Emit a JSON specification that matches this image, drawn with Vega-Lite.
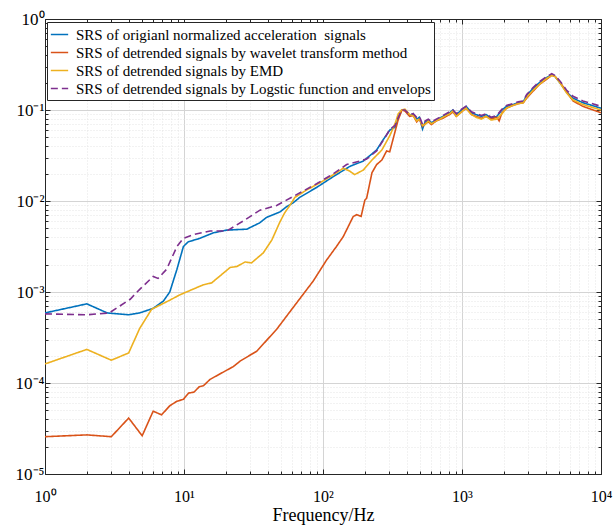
{
  "$schema": "https://vega.github.io/schema/vega-lite/v6.json",
  "width": 556,
  "height": 455,
  "autosize": {"type": "none"},
  "padding": {"left": 45, "top": 19, "right": 13, "bottom": 54},
  "background": "white",
  "config": {
    "font": "Liberation Serif",
    "view": {"stroke": "#262626", "strokeWidth": 1},
    "axis": {"domainColor": "#262626", "tickColor": "#262626", "labelColor": "black", "titleColor": "black"}
  },
  "datasets": {
    "srs": [
      {"s":"o","f":1,"v":5.89e-4},{"s":"o","f":2,"v":7.41e-4},{"s":"o","f":2.8,"v":5.89e-4},{"s":"o","f":4,"v":5.62e-4},{"s":"o","f":4.8,"v":5.89e-4},{"s":"o","f":6,"v":6.61e-4},{"s":"o","f":7.1,"v":7.94e-4},{"s":"o","f":7.9,"v":1.0e-3},{"s":"o","f":8.9,"v":1.78e-3},{"s":"o","f":9.9,"v":3.16e-3},{"s":"o","f":10.7,"v":3.55e-3},{"s":"o","f":13,"v":3.89e-3},{"s":"o","f":16.3,"v":4.47e-3},{"s":"o","f":20.3,"v":4.79e-3},{"s":"o","f":28.3,"v":4.9e-3},{"s":"o","f":35,"v":5.75e-3},{"s":"o","f":39.3,"v":6.61e-3},{"s":"o","f":49,"v":7.59e-3},{"s":"o","f":55,"v":8.71e-3},{"s":"o","f":61,"v":9.55e-3},{"s":"o","f":68,"v":0.01096},{"s":"o","f":90,"v":0.0141},{"s":"o","f":119,"v":0.0186},{"s":"o","f":156,"v":0.024},{"s":"o","f":195,"v":0.0275},{"s":"o","f":243,"v":0.0363},{"s":"o","f":270,"v":0.0468},{"s":"o","f":303,"v":0.0603},{"s":"o","f":330,"v":0.0646},{"s":"o","f":348,"v":0.0813},{"s":"o","f":368,"v":0.1},{"s":"o","f":388,"v":0.1},{"s":"o","f":420,"v":0.0871},{"s":"o","f":445,"v":0.0912},{"s":"o","f":472,"v":0.0794},{"s":"o","f":494,"v":0.0832},{"s":"o","f":520,"v":0.0617},{"s":"o","f":543,"v":0.0741},{"s":"o","f":572,"v":0.0776},{"s":"o","f":603,"v":0.0724},{"s":"o","f":653,"v":0.0776},{"s":"o","f":730,"v":0.0851},{"s":"o","f":815,"v":0.0933},{"s":"o","f":860,"v":0.1},{"s":"o","f":910,"v":0.0891},{"s":"o","f":993,"v":0.1},{"s":"o","f":1070,"v":0.1096},{"s":"o","f":1170,"v":0.0933},{"s":"o","f":1260,"v":0.0891},{"s":"o","f":1380,"v":0.0851},{"s":"o","f":1490,"v":0.0891},{"s":"o","f":1620,"v":0.0813},{"s":"o","f":1780,"v":0.0851},{"s":"o","f":1940,"v":0.1},{"s":"o","f":2090,"v":0.1096},{"s":"o","f":2320,"v":0.1148},{"s":"o","f":2540,"v":0.1202},{"s":"o","f":2760,"v":0.123},{"s":"o","f":2920,"v":0.1445},{"s":"o","f":3260,"v":0.1738},{"s":"o","f":3600,"v":0.1995},{"s":"o","f":4000,"v":0.2239},{"s":"o","f":4420,"v":0.2455},{"s":"o","f":4660,"v":0.2344},{"s":"o","f":5060,"v":0.1995},{"s":"o","f":5640,"v":0.1585},{"s":"o","f":6290,"v":0.1349},{"s":"o","f":7410,"v":0.1202},{"s":"o","f":10000,"v":0.1047},
      {"s":"w","f":1,"v":2.57e-5},{"s":"w","f":2,"v":2.69e-5},{"s":"w","f":3,"v":2.57e-5},{"s":"w","f":4,"v":4.12e-5},{"s":"w","f":5,"v":2.63e-5},{"s":"w","f":6,"v":4.9e-5},{"s":"w","f":6.9,"v":4.47e-5},{"s":"w","f":7.9,"v":5.62e-5},{"s":"w","f":8.9,"v":6.31e-5},{"s":"w","f":9.9,"v":6.61e-5},{"s":"w","f":10.8,"v":7.76e-5},{"s":"w","f":11.8,"v":7.94e-5},{"s":"w","f":12.9,"v":9.12e-5},{"s":"w","f":13.8,"v":9.33e-5},{"s":"w","f":15.4,"v":1.096e-4},{"s":"w","f":22.6,"v":1.514e-4},{"s":"w","f":25.3,"v":1.738e-4},{"s":"w","f":33.4,"v":2.239e-4},{"s":"w","f":46.4,"v":3.89e-4},{"s":"w","f":64.6,"v":7.59e-4},{"s":"w","f":85,"v":1.318e-3},{"s":"w","f":106,"v":2.239e-3},{"s":"w","f":125,"v":3.162e-3},{"s":"w","f":140,"v":4.07e-3},{"s":"w","f":165,"v":6.76e-3},{"s":"w","f":175,"v":7.08e-3},{"s":"w","f":188,"v":6.76e-3},{"s":"w","f":200,"v":0.01023},{"s":"w","f":206,"v":0.01072},{"s":"w","f":225,"v":0.02042},{"s":"w","f":243,"v":0.02512},{"s":"w","f":265,"v":0.02818},{"s":"w","f":287,"v":0.03548},{"s":"w","f":302,"v":0.03467},{"s":"w","f":318,"v":0.0468},{"s":"w","f":347,"v":0.0776},{"s":"w","f":370,"v":0.1},{"s":"w","f":388,"v":0.0977},{"s":"w","f":420,"v":0.0851},{"s":"w","f":445,"v":0.0871},{"s":"w","f":472,"v":0.0741},{"s":"w","f":494,"v":0.0794},{"s":"w","f":520,"v":0.0661},{"s":"w","f":543,"v":0.0708},{"s":"w","f":572,"v":0.0741},{"s":"w","f":603,"v":0.0692},{"s":"w","f":653,"v":0.0759},{"s":"w","f":730,"v":0.0813},{"s":"w","f":815,"v":0.0891},{"s":"w","f":860,"v":0.0955},{"s":"w","f":910,"v":0.0851},{"s":"w","f":993,"v":0.0955},{"s":"w","f":1070,"v":0.1047},{"s":"w","f":1170,"v":0.0891},{"s":"w","f":1260,"v":0.0851},{"s":"w","f":1380,"v":0.0813},{"s":"w","f":1490,"v":0.0851},{"s":"w","f":1620,"v":0.0794},{"s":"w","f":1780,"v":0.0832},{"s":"w","f":1850,"v":0.0759},{"s":"w","f":1940,"v":0.0933},{"s":"w","f":2090,"v":0.1047},{"s":"w","f":2320,"v":0.1122},{"s":"w","f":2540,"v":0.1175},{"s":"w","f":2760,"v":0.1202},{"s":"w","f":2920,"v":0.1349},{"s":"w","f":3260,"v":0.1622},{"s":"w","f":3600,"v":0.1905},{"s":"w","f":4000,"v":0.2138},{"s":"w","f":4420,"v":0.2399},{"s":"w","f":4660,"v":0.2344},{"s":"w","f":5060,"v":0.2042},{"s":"w","f":5640,"v":0.1585},{"s":"w","f":6290,"v":0.1259},{"s":"w","f":7410,"v":0.1096},{"s":"w","f":10000,"v":0.0933},
      {"s":"e","f":1,"v":1.62e-4},{"s":"e","f":2,"v":2.34e-4},{"s":"e","f":3,"v":1.78e-4},{"s":"e","f":4,"v":2.14e-4},{"s":"e","f":4.8,"v":3.98e-4},{"s":"e","f":5.85,"v":6.46e-4},{"s":"e","f":7.9,"v":8.13e-4},{"s":"e","f":9.36,"v":9.33e-4},{"s":"e","f":13.8,"v":1.202e-3},{"s":"e","f":15.8,"v":1.259e-3},{"s":"e","f":21.5,"v":1.862e-3},{"s":"e","f":24,"v":1.905e-3},{"s":"e","f":27.5,"v":2.138e-3},{"s":"e","f":30.6,"v":2.089e-3},{"s":"e","f":37.2,"v":2.692e-3},{"s":"e","f":42.8,"v":3.715e-3},{"s":"e","f":49,"v":5.89e-3},{"s":"e","f":53,"v":7.41e-3},{"s":"e","f":57.6,"v":8.91e-3},{"s":"e","f":62.8,"v":0.01096},{"s":"e","f":76,"v":0.01318},{"s":"e","f":95,"v":0.01585},{"s":"e","f":119,"v":0.0195},{"s":"e","f":140,"v":0.02291},{"s":"e","f":155,"v":0.02138},{"s":"e","f":169,"v":0.0195},{"s":"e","f":195,"v":0.02188},{"s":"e","f":225,"v":0.02818},{"s":"e","f":265,"v":0.03631},{"s":"e","f":303,"v":0.0525},{"s":"e","f":330,"v":0.0708},{"s":"e","f":348,"v":0.0912},{"s":"e","f":368,"v":0.1},{"s":"e","f":388,"v":0.1023},{"s":"e","f":420,"v":0.0891},{"s":"e","f":445,"v":0.0871},{"s":"e","f":472,"v":0.0759},{"s":"e","f":494,"v":0.0794},{"s":"e","f":520,"v":0.0676},{"s":"e","f":543,"v":0.0692},{"s":"e","f":572,"v":0.0759},{"s":"e","f":603,"v":0.0708},{"s":"e","f":653,"v":0.0759},{"s":"e","f":730,"v":0.0832},{"s":"e","f":815,"v":0.0912},{"s":"e","f":860,"v":0.0977},{"s":"e","f":910,"v":0.0851},{"s":"e","f":993,"v":0.0955},{"s":"e","f":1070,"v":0.1047},{"s":"e","f":1170,"v":0.0891},{"s":"e","f":1260,"v":0.0832},{"s":"e","f":1380,"v":0.0794},{"s":"e","f":1490,"v":0.0851},{"s":"e","f":1620,"v":0.0776},{"s":"e","f":1780,"v":0.0794},{"s":"e","f":1940,"v":0.0912},{"s":"e","f":2090,"v":0.1047},{"s":"e","f":2320,"v":0.1122},{"s":"e","f":2540,"v":0.1175},{"s":"e","f":2760,"v":0.1202},{"s":"e","f":2920,"v":0.138},{"s":"e","f":3260,"v":0.166},{"s":"e","f":3600,"v":0.1905},{"s":"e","f":4000,"v":0.2188},{"s":"e","f":4420,"v":0.2399},{"s":"e","f":4660,"v":0.2344},{"s":"e","f":5060,"v":0.1995},{"s":"e","f":5640,"v":0.1549},{"s":"e","f":6290,"v":0.1288},{"s":"e","f":7410,"v":0.1148},{"s":"e","f":10000,"v":0.1},
      {"s":"l","f":1,"v":5.75e-4},{"s":"l","f":2,"v":5.62e-4},{"s":"l","f":2.9,"v":5.89e-4},{"s":"l","f":4.1,"v":8.32e-4},{"s":"l","f":4.8,"v":1.07e-3},{"s":"l","f":6,"v":1.48e-3},{"s":"l","f":6.5,"v":1.41e-3},{"s":"l","f":7.5,"v":1.78e-3},{"s":"l","f":8.9,"v":3.16e-3},{"s":"l","f":9.9,"v":3.89e-3},{"s":"l","f":11.7,"v":4.27e-3},{"s":"l","f":15.4,"v":4.68e-3},{"s":"l","f":20.3,"v":4.68e-3},{"s":"l","f":26.7,"v":6.03e-3},{"s":"l","f":35.2,"v":7.94e-3},{"s":"l","f":46.4,"v":8.91e-3},{"s":"l","f":61,"v":0.01122},{"s":"l","f":90,"v":0.01549},{"s":"l","f":119,"v":0.01995},{"s":"l","f":148,"v":0.02512},{"s":"l","f":206,"v":0.02884},{"s":"l","f":243,"v":0.03548},{"s":"l","f":280,"v":0.0501},{"s":"l","f":303,"v":0.0617},{"s":"l","f":330,"v":0.0676},{"s":"l","f":348,"v":0.0832},{"s":"l","f":368,"v":0.1},{"s":"l","f":388,"v":0.1},{"s":"l","f":420,"v":0.0891},{"s":"l","f":445,"v":0.0912},{"s":"l","f":472,"v":0.0832},{"s":"l","f":494,"v":0.0851},{"s":"l","f":520,"v":0.0692},{"s":"l","f":543,"v":0.0759},{"s":"l","f":572,"v":0.0794},{"s":"l","f":603,"v":0.0741},{"s":"l","f":653,"v":0.0794},{"s":"l","f":730,"v":0.0871},{"s":"l","f":815,"v":0.0955},{"s":"l","f":860,"v":0.1},{"s":"l","f":910,"v":0.0912},{"s":"l","f":993,"v":0.1023},{"s":"l","f":1070,"v":0.1096},{"s":"l","f":1170,"v":0.0955},{"s":"l","f":1260,"v":0.0912},{"s":"l","f":1380,"v":0.0871},{"s":"l","f":1490,"v":0.0912},{"s":"l","f":1620,"v":0.0832},{"s":"l","f":1780,"v":0.0871},{"s":"l","f":1940,"v":0.1023},{"s":"l","f":2090,"v":0.1122},{"s":"l","f":2320,"v":0.1175},{"s":"l","f":2540,"v":0.123},{"s":"l","f":2760,"v":0.1259},{"s":"l","f":2920,"v":0.1479},{"s":"l","f":3260,"v":0.1778},{"s":"l","f":3600,"v":0.2042},{"s":"l","f":4000,"v":0.2291},{"s":"l","f":4420,"v":0.2512},{"s":"l","f":4660,"v":0.2399},{"s":"l","f":5060,"v":0.2089},{"s":"l","f":5640,"v":0.166},{"s":"l","f":6290,"v":0.1413},{"s":"l","f":7410,"v":0.1259},{"s":"l","f":10000,"v":0.1096}
    ]
  },
  "data": {"name": "srs"},
  "resolve": {"axis": {"x": "independent", "y": "independent"}},
  "layer": [
    {
      "mark": {"type": "line", "clip": true},
      "encoding": {
        "x": {
          "field": "f", "type": "quantitative",
          "scale": {"type": "log", "domain": [1, 10000], "nice": false},
          "axis": {
            "orient": "bottom",
            "values": [1,2,3,4,5,6,7,8,9,10,20,30,40,50,60,70,80,90,100,200,300,400,500,600,700,800,900,1000,2000,3000,4000,5000,6000,7000,8000,9000,10000],
            "labelExpr": "abs(log(datum.value)/LN10 - round(log(datum.value)/LN10)) < 1e-6 ? '10' + (round(log(datum.value)/LN10) < 0 ? '⁻' : '') + ['⁰','¹','²','³','⁴','⁵'][abs(round(log(datum.value)/LN10))] : ''",
            "labelFlush": false, "labelOverlap": false, "labelBound": false,
            "labelFont": "Liberation Serif", "labelFontSize": 16, "labelPadding": 19,
            "grid": true,
            "gridColor": {"condition": {"test": "abs(log(datum.value)/LN10 - round(log(datum.value)/LN10)) < 1e-6", "value": "#d4d4d4"}, "value": "#e4e4e4"},
            "gridDash": {"condition": {"test": "abs(log(datum.value)/LN10 - round(log(datum.value)/LN10)) < 1e-6", "value": []}, "value": [1, 2]},
            "tickSize": {"condition": {"test": "abs(log(datum.value)/LN10 - round(log(datum.value)/LN10)) < 1e-6", "value": -5}, "value": -3},
            "title": "Frequency/Hz", "titleFont": "Liberation Serif", "titleFontSize": 18, "titleFontWeight": "normal", "titlePadding": 0
          }
        },
        "y": {
          "field": "v", "type": "quantitative",
          "scale": {"type": "log", "domain": [0.00001, 1], "nice": false},
          "axis": {
            "orient": "left",
            "values": [0.00001,0.00002,0.00003,0.00004,0.00005,0.00006,0.00007,0.00008,0.00009,0.0001,0.0002,0.0003,0.0004,0.0005,0.0006,0.0007,0.0008,0.0009,0.001,0.002,0.003,0.004,0.005,0.006,0.007,0.008,0.009,0.01,0.02,0.03,0.04,0.05,0.06,0.07,0.08,0.09,0.1,0.2,0.3,0.4,0.5,0.6,0.7,0.8,0.9,1],
            "labelExpr": "abs(log(datum.value)/LN10 - round(log(datum.value)/LN10)) < 1e-6 ? '10' + (round(log(datum.value)/LN10) < 0 ? '⁻' : '') + ['⁰','¹','²','³','⁴','⁵'][abs(round(log(datum.value)/LN10))] : ''",
            "labelOverlap": false, "labelBound": false, "labelFlush": false,
            "labelFont": "Liberation Serif", "labelFontSize": 17, "labelPadding": 6,
            "grid": true,
            "gridColor": {"condition": {"test": "abs(log(datum.value)/LN10 - round(log(datum.value)/LN10)) < 1e-6", "value": "#d4d4d4"}, "value": "#e4e4e4"},
            "gridDash": {"condition": {"test": "abs(log(datum.value)/LN10 - round(log(datum.value)/LN10)) < 1e-6", "value": []}, "value": [1, 2]},
            "tickSize": {"condition": {"test": "abs(log(datum.value)/LN10 - round(log(datum.value)/LN10)) < 1e-6", "value": -5}, "value": -3},
            "title": null
          }
        },
        "color": {
          "field": "s", "type": "nominal",
          "scale": {"domain": ["o","w","e","l"], "range": ["#0072BD","#D95319","#EDB120","#7E2F8E"]},
          "legend": {
            "title": null, "orient": "none", "legendX": 2, "legendY": 3,
            "strokeColor": "#262626", "fillColor": "white", "padding": 3,
            "labelFont": "Liberation Serif", "labelFontSize": 15, "labelColor": "black", "labelLimit": 0,
            "labelOffset": 7, "rowPadding": 0, "symbolType": "stroke", "symbolSize": 300,
            "labelExpr": "datum.value == 'o' ? 'SRS of origianl normalized acceleration \u00a0signals' : datum.value == 'w' ? 'SRS of detrended signals by wavelet transform method' : datum.value == 'e' ? 'SRS of detrended signals by EMD' : 'SRS of detrended signals by Logstic function and envelops'"
          }
        },
        "strokeDash": {
          "field": "s", "type": "nominal",
          "scale": {"domain": ["o","w","e","l"], "range": [[1,0],[1,0],[1,0],[7,4]]},
          "legend": null
        },
        "strokeWidth": {
          "field": "s", "type": "nominal",
          "scale": {"domain": ["o","w","e","l"], "range": [1.6,1.6,1.6,2.8]},
          "legend": null
        }
      }
    },
    {
      "mark": {"type": "line", "strokeOpacity": 0},
      "encoding": {
        "x": {
          "field": "f", "type": "quantitative",
          "axis": {
            "orient": "top", "labels": false, "grid": false, "title": null,
            "values": [1,2,3,4,5,6,7,8,9,10,20,30,40,50,60,70,80,90,100,200,300,400,500,600,700,800,900,1000,2000,3000,4000,5000,6000,7000,8000,9000,10000],
            "tickSize": {"condition": {"test": "abs(log(datum.value)/LN10 - round(log(datum.value)/LN10)) < 1e-6", "value": -5}, "value": -3}
          }
        },
        "y": {
          "field": "v", "type": "quantitative",
          "axis": {
            "orient": "right", "labels": false, "grid": false, "title": null,
            "values": [0.00001,0.00002,0.00003,0.00004,0.00005,0.00006,0.00007,0.00008,0.00009,0.0001,0.0002,0.0003,0.0004,0.0005,0.0006,0.0007,0.0008,0.0009,0.001,0.002,0.003,0.004,0.005,0.006,0.007,0.008,0.009,0.01,0.02,0.03,0.04,0.05,0.06,0.07,0.08,0.09,0.1,0.2,0.3,0.4,0.5,0.6,0.7,0.8,0.9,1],
            "tickSize": {"condition": {"test": "abs(log(datum.value)/LN10 - round(log(datum.value)/LN10)) < 1e-6", "value": -5}, "value": -3}
          }
        },
        "detail": {"field": "s"}
      }
    }
  ]
}
